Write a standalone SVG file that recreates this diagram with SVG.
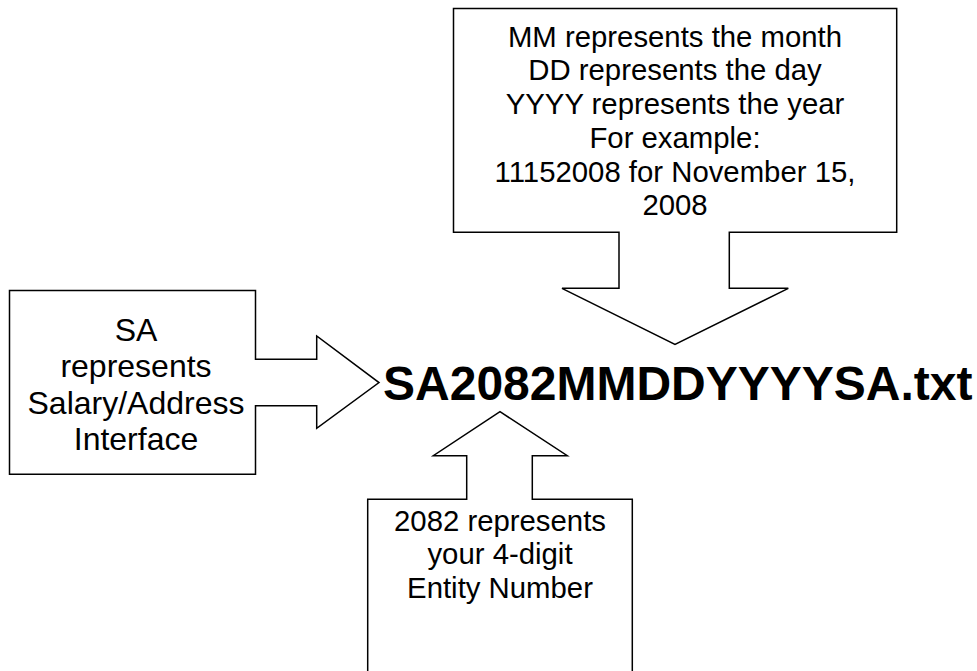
<svg xmlns="http://www.w3.org/2000/svg" width="977" height="671" viewBox="0 0 977 671">
<style>
.shape{fill:#fff;stroke:#000;stroke-width:1.5;stroke-linejoin:miter}
.t{font-family:"Liberation Sans",Arial,sans-serif;fill:#000;text-anchor:middle}
.s22{font-size:29.33px}
.s24{font-size:32px}
.main{font-family:"Liberation Sans",Arial,sans-serif;font-size:48px;font-weight:bold;fill:#000}
</style>
<rect width="977" height="671" fill="#fff"/>
<g id="connectors"/>
<g id="date-callout">
<path class="shape" d="M453.5,8.5 H896.7 V232.3 H729.3 V288.3 H788.3 L675,344.3 L562,288.3 H619 V232.3 H453.5 Z"/>
<text class="t s22" x="675" y="46.7">MM represents the month</text>
<text class="t s22" x="675" y="80.4">DD represents the day</text>
<text class="t s22" x="675" y="114.1">YYYY represents the year</text>
<text class="t s22" x="675" y="147.8">For example:</text>
<text class="t s22" x="675" y="181.5">11152008 for November 15,</text>
<text class="t s22" x="675" y="215">2008</text>
</g>
<g id="sa-callout">
<path class="shape" d="M9.5,290.5 H255.5 V359.3 H316.7 V336 L379,382.6 L316.7,428.3 V405.7 H255.5 V474.3 H9.5 Z"/>
<text class="t s24" x="136" y="341">SA</text>
<text class="t s24" x="136" y="377.3">represents</text>
<text class="t s24" x="136" y="413.6">Salary/Address</text>
<text class="t s24" x="136" y="449.9">Interface</text>
</g>
<g id="entity-callout">
<path class="shape" d="M367.7,690 V499.3 H466.7 V455.7 H433.3 L500,411.7 L567.3,455.7 H532.3 V499.3 H632.3 V690 Z"/>
<text class="t s22" x="500" y="530.7">2082 represents</text>
<text class="t s22" x="500" y="564.3">your 4-digit</text>
<text class="t s22" x="500" y="598.3">Entity Number</text>
</g>
<g id="filename">
<text class="main" x="383" y="400">SA2082MMDDYYYYSA.txt</text>
</g>
</svg>
